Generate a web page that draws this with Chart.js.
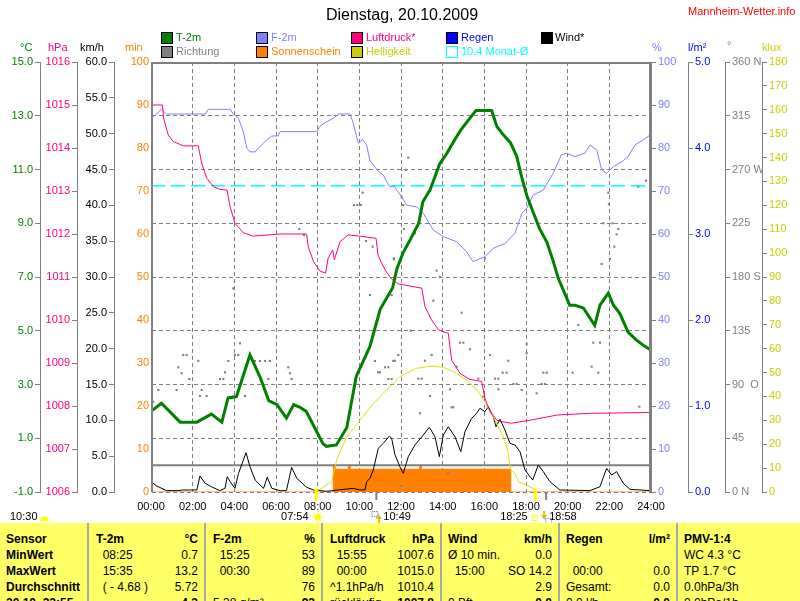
<!DOCTYPE html>
<html>
<head>
<meta charset="utf-8">
<script src="https://cdn.jsdelivr.net/npm/chart.js@4.4.1/dist/chart.umd.min.js"></script>
<style>
  body { margin: 0; background: #fff; font-family: "Liberation Sans", Arial, sans-serif; }
  #wrap { position: relative; width: 800px; height: 601px; overflow: hidden; }
  #c { position: absolute; left: 0; top: 0; }
  .t { position: absolute; white-space: nowrap; font-size: 11px; line-height: 13px; }
  .box { position: absolute; width: 10px; height: 10px; border: 1px solid #000; }
  #table { position: absolute; left: 0; top: 523px; width: 800px; height: 78px; background: #ffff66; overflow: hidden; }
  .col { position: absolute; top: 8px; }
  .row { height: 16px; line-height: 16px; display: flex; justify-content: space-between; font-size: 12px; white-space: pre; }
  .sep { position: absolute; top: 0; width: 2px; height: 78px; background: #a8a8a8; }
</style>
</head>
<body>
<div id="wrap">
  <canvas id="c" width="800" height="601"></canvas>

  <div class="t" style="left:0;width:804px;top:6px;text-align:center;font-size:16px;line-height:18px;">Dienstag, 20.10.2009</div>
  <div class="t" style="left:688px;top:5px;color:#ff0000;">Mannheim-Wetter.info</div>

  <!-- legend -->
  <div class="box" style="left:161px;top:32px;background:#008000"></div><div class="t" style="left:176px;top:31px;color:#008000">T-2m</div>
  <div class="box" style="left:256px;top:32px;background:#8080ff"></div><div class="t" style="left:271px;top:31px;color:#8080ff">F-2m</div>
  <div class="box" style="left:351px;top:32px;background:#ff0080"></div><div class="t" style="left:366px;top:31px;color:#ff0080">Luftdruck*</div>
  <div class="box" style="left:446px;top:32px;background:#0000ff"></div><div class="t" style="left:461px;top:31px;color:#0000ff">Regen</div>
  <div class="box" style="left:541px;top:32px;background:#000000"></div><div class="t" style="left:555px;top:31px;color:#000">Wind*</div>
  <div class="box" style="left:161px;top:46px;background:#808080"></div><div class="t" style="left:176px;top:45px;color:#808080">Richtung</div>
  <div class="box" style="left:256px;top:46px;background:#ff8000"></div><div class="t" style="left:271px;top:45px;color:#ff8000">Sonnenschein</div>
  <div class="box" style="left:351px;top:46px;background:#cccc00"></div><div class="t" style="left:366px;top:45px;color:#cccc00">Helligkeit</div>
  <div class="box" style="left:446px;top:46px;border-color:#00ffff;background:#fff"></div><div class="t" style="left:461px;top:45px;color:#00ffff">10.4 Monat-Ø</div>

  <!-- axis titles -->
  <div class="t" style="left:20px;top:41px;color:#008000">°C</div>
  <div class="t" style="left:48px;top:41px;color:#ff0080">hPa</div>
  <div class="t" style="left:80px;top:41px;color:#000">km/h</div>
  <div class="t" style="left:125px;top:41px;color:#ff8000">min</div>
  <div class="t" style="left:652px;top:41px;color:#8080ff">%</div>
  <div class="t" style="left:688px;top:41px;color:#0000ff">l/m²</div>
  <div class="t" style="left:727px;top:39px;color:#808080">°</div>
  <div class="t" style="left:762px;top:41px;color:#cccc00">klux</div>

  <!-- statistics table -->
  <div id="table">
    <div class="sep" style="left:87px"></div>
    <div class="sep" style="left:204px"></div>
    <div class="sep" style="left:321px"></div>
    <div class="sep" style="left:440px"></div>
    <div class="sep" style="left:558px"></div>
    <div class="sep" style="left:676px"></div>

    <div class="col" style="left:6px;width:80px">
      <div class="row"><b>Sensor</b></div>
      <div class="row"><b>MinWert</b></div>
      <div class="row"><b>MaxWert</b></div>
      <div class="row"><b>Durchschnitt</b></div>
      <div class="row"><b>20.10. 22:55</b></div>
    </div>
    <div class="col" style="left:96px;width:102px">
      <div class="row"><b>T-2m</b><b>°C</b></div>
      <div class="row"><span>  08:25</span><span>0.7</span></div>
      <div class="row"><span>  15:35</span><span>13.2</span></div>
      <div class="row"><span>  ( - 4.68 )</span><span>5.72</span></div>
      <div class="row"><span></span><b>4.3</b></div>
    </div>
    <div class="col" style="left:213px;width:102px">
      <div class="row"><b>F-2m</b><b>%</b></div>
      <div class="row"><span>  15:25</span><span>53</span></div>
      <div class="row"><span>  00:30</span><span>89</span></div>
      <div class="row"><span></span><span>76</span></div>
      <div class="row"><span>5.38 g/m³</span><b>93</b></div>
    </div>
    <div class="col" style="left:330px;width:104px">
      <div class="row"><b>Luftdruck</b><b>hPa</b></div>
      <div class="row"><span>  15:55</span><span>1007.6</span></div>
      <div class="row"><span>  00:00</span><span>1015.0</span></div>
      <div class="row"><span>^1.1hPa/h</span><span>1010.4</span></div>
      <div class="row"><span>rückläufig</span><b>1007.8</b></div>
    </div>
    <div class="col" style="left:448px;width:104px">
      <div class="row"><b>Wind</b><b>km/h</b></div>
      <div class="row"><span>Ø 10 min.</span><span>0.0</span></div>
      <div class="row"><span>  15:00</span><span>SO 14.2</span></div>
      <div class="row"><span></span><span>2.9</span></div>
      <div class="row"><span>0 Bft</span><b>0.0</b></div>
    </div>
    <div class="col" style="left:566px;width:104px">
      <div class="row"><b>Regen</b><b>l/m²</b></div>
      <div class="row"><span></span><span></span></div>
      <div class="row"><span>  00:00</span><span>0.0</span></div>
      <div class="row"><span>Gesamt:</span><span>0.0</span></div>
      <div class="row"><span>0.0 l/h</span><b>0.0</b></div>
    </div>
    <div class="col" style="left:684px;width:110px">
      <div class="row"><b>PMV-1:4</b></div>
      <div class="row"><span>WC 4.3 °C</span></div>
      <div class="row"><span>TP 1.7 °C</span></div>
      <div class="row"><span>0.0hPa/3h</span></div>
      <div class="row"><span>0.0hPa/1h</span></div>
    </div>
  </div>
</div>

<script>
// time of day in hours

const tempTimes = [0, 0.5, 1.4, 2.2, 2.9, 3.4, 3.7, 4.1, 4.75, 5.25, 5.65, 6.05, 6.5, 6.85, 7.15, 7.45, 7.85, 8.25, 8.42, 8.9,
  9.4, 9.85, 10.5, 11.0, 11.6, 11.8, 12.1, 12.45, 12.85, 13.05, 13.4, 13.85, 14.2, 14.65, 14.9, 15.3, 15.6, 16.35, 16.6, 16.9,
  17.25, 17.55, 17.8, 18.05, 18.35, 18.65, 19.0, 19.3, 19.55, 20.1, 20.35, 20.75, 21.3, 21.55, 21.95, 22.2, 22.5, 22.9, 23.3, 23.65, 23.95];
const tempValues = [2.0, 2.3, 1.6, 1.6, 1.9, 1.6, 2.5, 2.55, 4.1, 3.25, 2.4, 2.25, 1.75, 2.25, 2.15, 2.0, 1.4, 0.8, 0.7, 0.75,
  1.4, 3.3, 4.4, 5.8, 6.6, 7.3, 7.9, 8.4, 9.0, 9.8, 10.25, 11.2, 11.6, 12.2, 12.5, 12.9, 13.2, 13.2, 12.6, 12.3,
  12.0, 11.5, 10.7, 10.0, 9.4, 8.8, 8.3, 7.6, 6.95, 5.95, 5.95, 5.85, 5.2, 5.95, 6.4, 5.95, 5.65, 4.95, 4.65, 4.45, 4.3];

const humTimes = [0, 0.27, 0.5, 0.75, 2.6, 2.75, 3.8, 3.95, 4.2, 4.43, 4.6, 4.75, 5.0, 5.15, 5.55, 5.8, 6.1, 6.2, 7.95, 8.1,
  8.35, 8.75, 9.0, 9.55, 9.7, 9.95, 10.15, 10.35, 10.5, 10.85, 11.15, 11.45, 11.7, 11.8, 12.03, 12.27, 12.75, 13.07, 13.55, 14.03,
  14.67, 15.15, 15.45, 16.03, 16.43, 17.0, 17.47, 17.8, 18.03, 18.35, 18.83, 19.3, 19.7, 19.95, 20.35, 20.83, 21.07, 21.4, 21.63, 21.87,
  22.2, 22.6, 22.9, 23.23, 23.63, 23.95];
const humValues = [86.9, 87.9, 89, 87.9, 87.9, 89, 89, 87.9, 86.9, 83.8, 79.9, 79.1, 79.1, 79.9, 81.9, 82.8, 82.8, 83.8, 83.8, 85,
  85.9, 86.9, 87.9, 87.9, 85.9, 81.1, 82, 80.7, 77.2, 74.9, 73.7, 71, 71, 70.2, 68.7, 66.7, 66.3, 64.8, 60.9, 59.4,
  58.2, 55.9, 53.6, 54.7, 56.7, 57.8, 60.2, 64.8, 66, 69.1, 70.2, 74.1, 78.4, 78.8, 78, 78.8, 80.7, 79.5, 74.9, 74.1,
  75.7, 76.8, 78, 80.7, 81.9, 83];

const pressTimes = [0, 0.55, 0.6, 0.83, 1.07, 1.55, 2.27, 2.43, 2.67, 3.0, 3.3, 3.65, 3.8, 4.03, 4.43, 4.9, 6.2, 7.47, 7.55, 7.8,
  8.1, 8.38, 8.5, 8.72, 8.8, 9.07, 9.47, 10.03, 10.8, 10.9, 11.07, 11.3, 11.55, 11.87, 13.0, 13.15, 13.47, 13.8, 14.27, 14.43,
  14.83, 15.3, 15.87, 16.03, 16.27, 16.6, 16.9, 17.3, 18.2, 19.5, 21.1, 22.7, 23.95];
const pressValues = [1015.0, 1015.0, 1014.7, 1014.3, 1014.15, 1014.05, 1014.05, 1013.65, 1013.3, 1013.1, 1013.04, 1013.02, 1012.63, 1012.25, 1012.03, 1011.95, 1012.0, 1012.0, 1011.7, 1011.36,
  1011.14, 1011.09, 1011.43, 1011.63, 1011.4, 1011.82, 1011.98, 1011.95, 1011.9, 1011.51, 1011.32, 1011.12, 1010.95, 1010.84, 1010.74, 1010.31, 1010.0, 1009.77, 1009.69, 1009.07,
  1008.76, 1008.62, 1008.57, 1008.18, 1007.87, 1007.67, 1007.63, 1007.6, 1007.67, 1007.79, 1007.83, 1007.84, 1007.85];

const windTimes = [0, 0.27, 0.75, 1.25, 1.55, 1.9, 2.2, 2.35, 2.6, 2.9, 3.3, 3.55, 3.66, 3.8, 4.03, 4.2, 4.35, 4.56, 4.75, 5.0,
  5.4, 5.58, 5.8, 6.2, 6.5, 6.75, 7.0, 7.47, 7.8, 8.43, 9.7, 10.03, 10.27, 10.35, 10.51, 10.67, 10.91, 11.15, 11.44, 11.55,
  11.71, 11.95, 12.11, 12.35, 12.67, 13.07, 13.36, 13.63, 13.84, 14.03, 14.27, 14.59, 14.87, 15.07, 15.39, 15.63, 15.79, 16.03, 16.19, 16.43,
  16.56, 16.75, 16.99, 17.23, 17.47, 17.71, 17.95, 18.32, 18.59, 18.83, 19.15, 19.63, 21.07, 21.55, 21.87, 22.11, 22.35, 22.67, 22.99, 23.95];
const windValues = [1.44, 0.84, 0.19, 0.19, 0.28, 0.28, 0.28, 2.23, 1.21, 0.74, 0.19, 0.51, 2.14, 1.44, 0.51, 2.6, 3.77, 5.49, 3.53, 1.67,
  0.51, 2.05, 0.51, 0.19, 0.19, 3.44, 1.91, 0.65, 0.28, 0.1, 0.51, 0.28, 0.3, 1.44, 1.9, 3.07, 6.1, 6.79, 7.8, 7.5,
  5.2, 3.5, 2.6, 4.93, 6.56, 7.95, 9.03, 7.72, 4.93, 7.95, 9.11, 7.72, 5.63, 8.42, 10.28, 10.98, 11.68, 11.21, 11.91, 10.51,
  9.11, 10.14, 8.65, 6.79, 6.56, 5.63, 3.07, 1.67, 3.77, 2.84, 1.44, 0.28, 0.2, 0.74, 3.3, 2.37, 2.84, 1.21, 0.37, 0.2];

const luxTimes = [7.9, 8.67, 8.91, 9.39, 10.03, 10.67, 11.31, 11.95, 12.75, 13.47, 14.03, 14.67, 15.23, 15.71, 16.11, 16.51, 16.91, 17.15, 17.26, 17.47, 17.63, 18.19, 18.43];
const luxValues = [0, 4.3, 13.4, 23, 30, 37, 42.7, 48.3, 51.8, 52.7, 52.2, 49.7, 46.2, 42, 36.4, 30.1, 23.2, 16.2, 9.2, 7.8, 4.3, 2.2, 0.8];

const sunTimes = [0, 8.75, 8.85, 9.47, 9.56, 12.9, 12.98, 17.27, 24];
const sunMinutes = [0, 6.3, 5.3, 6.3, 5.3, 6.3, 5.3, 0, 0];

const dirTimes = [0.11, 0.35, 1.23, 1.31, 1.47, 1.55, 1.71, 1.84, 2.27, 2.35, 2.67, 2.43, 3.31, 3.47, 3.55, 3.71, 3.95, 4.03, 4.19, 4.27,
  4.51, 4.99, 5.23, 5.47, 5.71, 5.63, 6.59, 6.67, 6.75, 10.51, 10.75, 10.91, 10.99, 11.23, 11.39, 11.39, 11.55, 11.63, 11.87, 10.16,
  9.74, 9.9, 10.07, 7.12, 7.34, 10.32, 10.64, 11.66, 12.35, 12.24, 12.03, 12.11, 12.14, 12.67, 11.66, 13.71, 21.95, 21.98, 21.71, 22.43,
  22.35, 22.24, 22.03, 21.63, 22.16, 23.39, 23.76, 16.03, 13.87, 11.55, 13.55, 14.91, 12.47, 14.83, 14.99, 15.31, 13.47, 11.71, 13.15, 14.67,
  16.27, 17.15, 16.88, 17.07, 12.83, 12.99, 15.71, 16.51, 16.67, 17.39, 17.55, 18.75, 14.35, 16.67, 17.79, 13.39, 15.95, 14.43, 14.51, 12.91,
  18.03, 18.03, 18.99, 18.51, 20.24, 20.51, 21.23, 21.55, 21.15, 21.47, 18.91, 18.83, 14.27, 11.99, 23.44];
const dirDegrees = [75.6, 85.4, 85.4, 104.4, 99.4, 114.7, 114.7, 94.6, 109.7, 80.4, 80.4, 85.4, 94.6, 94.6, 100.2, 109.7, 170.5, 114.7, 114.7, 124.5,
  80.4, 109.7, 109.7, 109.7, 109.7, 94.6, 104.4, 99.4, 94.6, 164.9, 109.7, 100.2, 100.2, 104.4, 104.4, 94.6, 94.6, 109.7, 114.7, 250.6,
  240.3, 240.3, 240.3, 220.2, 215.2, 210.1, 205.4, 195.7, 279.9, 269.6, 247.2, 240.3, 220.2, 216.6, 194.8, 185.3, 250.6, 240.9, 225, 220.2,
  215.7, 205.4, 195.1, 190.9, 225, 255.6, 260.6, 195.7, 180.2, 164.9, 160.2, 150.1, 135, 125, 125, 119.5, 114.7, 109.9, 109.9, 104.9,
  114.7, 109.9, 99.9, 99.9, 94.9, 94.9, 94.9, 94.9, 94.9, 90.4, 90.4, 90.4, 86, 86, 85.4, 80.4, 79.8, 70.9, 70.9, 65.9,
  123.9, 116.1, 99.9, 82.6, 99.9, 139.8, 125, 125, 104.9, 99.9, 90.4, 99.9, 15.7, 5, 71.4];

const monthAvgTemp = 10.4;
const dayRange = [0, 24];

// sunrise, moonrise, sunset, moonset
const eventTimes = [7.9, 10.817, 18.417, 18.967];
const eventLabels = ['07:54', '10:49', '18:25', '18:58'];
const sunDuration = '10:30';

const dirNames = { 0: '0 N', 90: '90  O', 180: '180 S', 270: '270 W', 360: '360 N' };

const pts = (xs, ys) => xs.map((x, i) => ({ x: x, y: ys[i] }));
const GRAY = '#808080';

Chart.defaults.font.family = '"Liberation Sans", Arial, sans-serif';
Chart.defaults.font.size = 11;

function yAxis(position, min, max, step, color, width, fmt, extra) {
  const ax = {
    type: 'linear',
    position: position,
    min: min, max: max,
    afterFit: s => { s.width = width; },
    ticks: { stepSize: step, color: color, padding: 2, autoSkip: false, callback: fmt },
    grid: { drawOnChartArea: false, color: GRAY, tickLength: 5 },
    border: { display: true, color: GRAY, width: 1 }
  };
  return Object.assign(ax, extra || {});
}

const sunPlugin = {
  id: 'frameAndSun',
  afterDatasetsDraw(chart) {
    const ctx = chart.ctx;
    const a = chart.chartArea;
    ctx.save();
    ctx.strokeStyle = GRAY;
    ctx.lineWidth = 2;
    ctx.beginPath();
    ctx.moveTo(a.left + 1, a.bottom); ctx.lineTo(a.left + 1, a.top + 1); ctx.lineTo(a.right, a.top + 1);
    ctx.stroke();
    ctx.lineWidth = 3;
    ctx.beginPath(); ctx.moveTo(a.right - 0.5, a.top); ctx.lineTo(a.right - 0.5, a.bottom + 1); ctx.stroke();
    ctx.restore();
  },
  afterDraw(chart) {
    const ctx = chart.ctx;
    const a = chart.chartArea;
    const xs = chart.scales.x;
    const p = eventTimes.map(t => xs.getPixelForValue(t));
    ctx.save();
    // ticks on the time axis
    ctx.fillStyle = '#ffff00';
    ctx.fillRect(p[0] - 1, a.bottom - 4, 3, 13);
    ctx.fillRect(p[2] - 1, a.bottom - 4, 3, 13);
    ctx.fillStyle = GRAY;
    ctx.fillRect(p[1] - 1, a.bottom, 2, 8);
    ctx.fillRect(p[3] - 1, a.bottom, 2, 8);

    ctx.font = '11px "Liberation Sans", Arial, sans-serif';
    ctx.fillStyle = '#000';
    ctx.textBaseline = 'middle';
    const ty = 517;
    ctx.textAlign = 'left';
    ctx.fillText(sunDuration, 10, ty);
    ctx.fillStyle = '#ffff00';
    ctx.beginPath(); ctx.arc(44.5, 521, 4.5, Math.PI, 0); ctx.fill();

    // sunrise
    ctx.fillStyle = '#000';
    ctx.textAlign = 'right';
    ctx.fillText(eventLabels[0], p[0] - 7, ty);
    ctx.fillStyle = '#ffff00';
    ctx.beginPath(); ctx.arc(p[0] + 2, ty, 3.5, 0, Math.PI * 2); ctx.fill();
    ctx.strokeStyle = '#ffff00'; ctx.lineWidth = 1;
    for (let k = 0; k < 8; k++) {
      const an = k * Math.PI / 4;
      ctx.beginPath();
      ctx.moveTo(p[0] + 2 + Math.cos(an) * 4.5, ty + Math.sin(an) * 4.5);
      ctx.lineTo(p[0] + 2 + Math.cos(an) * 6, ty + Math.sin(an) * 6);
      ctx.stroke();
    }
    // moonrise
    ctx.strokeStyle = '#6060c0'; ctx.setLineDash([1, 1]);
    ctx.strokeRect(p[1] - 4.5, 511.5, 6, 5);
    ctx.setLineDash([]);
    ctx.fillStyle = '#e0c000';
    ctx.beginPath(); ctx.moveTo(p[1] + 2.5, 514); ctx.lineTo(p[1] + 5.5, 519); ctx.lineTo(p[1] - 0.5, 519); ctx.fill();
    ctx.fillRect(p[1] + 1.5, 518, 2, 5);
    ctx.fillStyle = '#000'; ctx.textAlign = 'left';
    ctx.fillText(eventLabels[1], p[1] + 7, ty);
    // sunset
    ctx.textAlign = 'right';
    ctx.fillText(eventLabels[2], p[2] - 7, ty);
    ctx.strokeStyle = '#ffff00';
    ctx.strokeRect(p[2] - 2.5, 515.5, 5, 5);
    // moonset
    ctx.fillStyle = '#e0c000';
    ctx.fillRect(p[3] - 3, 511, 2, 5);
    ctx.beginPath(); ctx.moveTo(p[3] - 5, 515); ctx.lineTo(p[3] + 1, 515); ctx.lineTo(p[3] - 2, 520); ctx.fill();
    ctx.strokeStyle = '#6060c0'; ctx.setLineDash([1, 1]);
    ctx.strokeRect(p[3] - 0.5, 518.5, 6, 5);
    ctx.setLineDash([]);
    ctx.fillStyle = '#000'; ctx.textAlign = 'left';
    ctx.fillText(eventLabels[3], p[3] + 3, ty);
    ctx.restore();
  }
};

new Chart(document.getElementById('c'), {
  type: 'line',
  data: {
    datasets: [
      { label: 'T-2m', data: pts(tempTimes, tempValues), yAxisID: 'yC', borderColor: '#008000', borderWidth: 3, pointRadius: 0 },
      { label: 'Luftdruck*', data: pts(pressTimes, pressValues), yAxisID: 'yHpa', borderColor: '#ff0080', borderWidth: 1, pointRadius: 0 },
      { label: 'F-2m', data: pts(humTimes, humValues), yAxisID: 'yPct', borderColor: '#8080ff', borderWidth: 1, pointRadius: 0 },
      { label: 'Helligkeit', data: pts(luxTimes, luxValues), yAxisID: 'yLux', borderColor: '#e0e000', borderWidth: 1, pointRadius: 0 },
      { label: '10.4 Monat-Ø', data: pts(dayRange, dayRange.map(() => monthAvgTemp)), yAxisID: 'yC', borderColor: '#00ffff', borderWidth: 1.5, borderDash: [14, 6], pointRadius: 0 },
      { label: 'Wind*', data: pts(windTimes, windValues), yAxisID: 'yKmh', borderColor: '#000000', borderWidth: 1, pointRadius: 0 },
      { label: 'Richtung', data: pts(dirTimes, dirDegrees), yAxisID: 'yDir', showLine: false, pointStyle: 'rect', pointRadius: 1.5, pointBorderWidth: 0, pointBackgroundColor: GRAY, borderColor: GRAY },
      { label: '0 °C', data: pts(dayRange, dayRange.map(() => 0)), yAxisID: 'yC', borderColor: GRAY, borderWidth: 2, pointRadius: 0 },
      { label: 'Sonnenschein', data: pts(sunTimes, sunMinutes), yAxisID: 'yMin', stepped: true, borderColor: '#ff8000', borderWidth: 1, backgroundColor: '#ff8000', fill: 'origin', pointRadius: 0 }
    ]
  },
  options: {
    responsive: false,
    animation: false,
    layout: { padding: { top: 62, left: 0, right: 0, bottom: 0 } },
    plugins: { legend: { display: false }, tooltip: { enabled: false } },
    scales: {
      x: {
        type: 'linear', min: 0, max: 24,
        afterFit: s => { s.height = 109; },
        ticks: { stepSize: 2, color: '#000', padding: 8, maxRotation: 0, autoSkip: false,
          callback: v => String(v).padStart(2, '0') + ':00' },
        grid: { color: GRAY, drawTicks: false },
        border: { display: false, dash: [4, 3] }
      },
      yMin: yAxis('left', 0, 100, 10, '#ff8000', 37, v => String(v), {
        grid: { drawOnChartArea: false, drawTicks: false },
        border: { display: false }
      }),
      yKmh: yAxis('left', 0, 60, 5, '#000000', 37, v => v.toFixed(1)),
      yHpa: yAxis('left', 1006, 1016, 1, '#ff0080', 37, v => String(v)),
      yC: yAxis('left', -1, 15, 2, '#008000', 40, v => v.toFixed(1), {
        grid: { drawOnChartArea: true, color: GRAY, tickLength: 5, tickBorderDash: [] },
        border: { display: true, color: GRAY, width: 1, dash: [4, 3] }
      }),
      yPct: yAxis('right', 0, 100, 10, '#8080ff', 37, v => String(v), {
        border: { display: false }
      }),
      yRain: yAxis('right', 0, 5, 1, '#0000ff', 37, v => v.toFixed(1)),
      yDir: yAxis('right', 0, 360, 45, GRAY, 37, v => dirNames[v] !== undefined ? dirNames[v] : String(v)),
      yLux: yAxis('right', 0, 180, 10, '#cccc00', 38, v => String(v))
    }
  },
  plugins: [sunPlugin]
});
</script>
</body>
</html>
